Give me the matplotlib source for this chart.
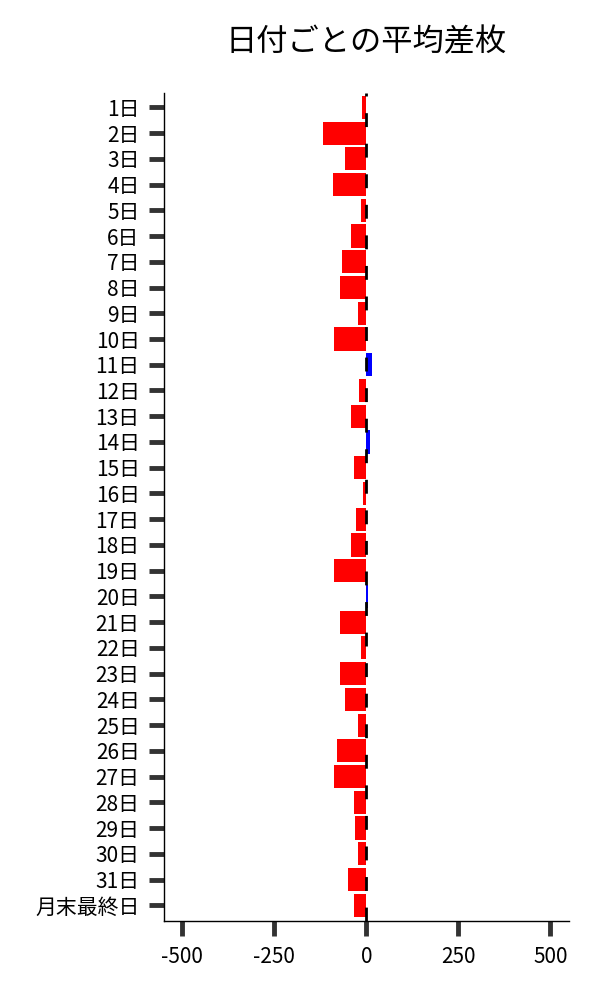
import matplotlib
matplotlib.use("Agg")
import matplotlib.pyplot as plt

plt.rcParams['font.family'] = ['Noto Sans CJK JP', 'DejaVu Sans']

days = [f"{i}日" for i in range(1, 32)] + ["月末最終日"]
diffs = [-11, -117, -57, -90, -16, -41, -65, -71, -24, -87,
         15, -19, -41, 10, -33, -8, -27, -43, -87, 4,
         -73, -16, -71, -57, -22, -79, -87, -33, -30, -24,
         -49, -33]
xticks = [-500, -250, 0, 250, 500]

colors = ['#0000ff' if v > 0 else '#ff0000' for v in diffs]

fig = plt.figure(figsize=(6, 10), dpi=100)
ax = fig.add_axes([0.2733, 0.0793, 0.6747, 0.828])

ax.barh(range(len(days)), diffs, height=0.9, color=colors, zorder=2)
ax.axvline(0, color='black', lw=2, linestyle=(0, (5, 6)), zorder=3)

ax.set_yticks(range(len(days)))
ax.set_yticklabels(days)
ax.set_ylim(len(days) - 0.4, -0.57)
ax.set_xlim(-550, 550)
ax.set_xticks(xticks)
ax.set_xticklabels([str(v) for v in xticks])

ax.tick_params(axis='both', length=10.5, width=3.5, color='#333333', labelsize=15)
ax.tick_params(axis='y', pad=7)
ax.tick_params(axis='x', pad=8)

ax.spines['top'].set_visible(False)
ax.spines['right'].set_visible(False)
ax.spines['left'].set_linewidth(1.0)
ax.spines['bottom'].set_linewidth(1.0)

fig.text(0.611, 0.9575, '日付ごとの平均差枚', fontsize=22.5, ha='center', va='center')

fig.savefig('out.png', dpi=100)
